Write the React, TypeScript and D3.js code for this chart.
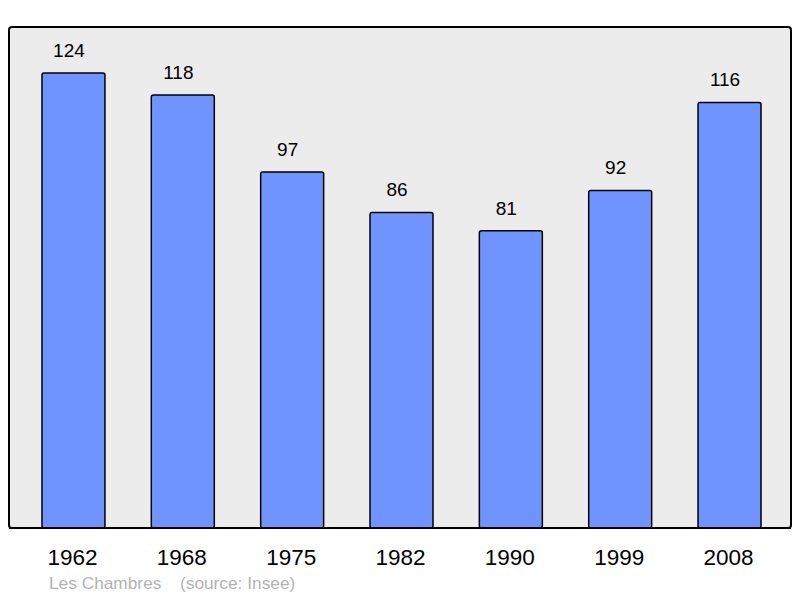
import React from "react";
import * as d3 from "d3";

const years = ["1962", "1968", "1975", "1982", "1990", "1999", "2008"];
const population = [124, 118, 97, 86, 81, 92, 116];
const footerTitle = "Les Chambres";
const footerSource = "(source: Insee)";

const width = 800;
const height = 598;
const panel = { left: 9, top: 27, right: 791, bottom: 528 };

const App: React.FC = () => {
  const x = d3
    .scaleBand<string>()
    .domain(years)
    .range([18.8, 784.2])
    .paddingInner(0.424)
    .paddingOuter(0.212);

  const y = d3
    .scaleLinear()
    .domain([0, 136.55])
    .range([panel.bottom, panel.top]);

  const font = "'Liberation Sans', Arial, sans-serif";

  return (
    <svg
      width={width}
      height={height}
      style={{ position: "absolute", left: 0, top: 0 }}
      fontFamily={font}
    >
      <rect x={0} y={0} width={width} height={height} fill="#ffffff" />
      {/* plot panel */}
      <rect
        x={panel.left}
        y={panel.top}
        width={panel.right - panel.left}
        height={panel.bottom - panel.top}
        rx={3}
        fill="#ececec"
        stroke="#000"
        strokeWidth={2}
      />
      {/* bars */}
      {years.map((yr, i) => (
        <rect
          key={yr}
          x={x(yr)}
          y={y(population[i])}
          width={x.bandwidth()}
          height={panel.bottom - y(population[i])}
          rx={2}
          fill="#7094ff"
          stroke="#000"
          strokeWidth={1.5}
        />
      ))}
      {/* value labels, sitting a little left of the bar centre */}
      {years.map((yr, i) => (
        <text
          key={`v${yr}`}
          x={(x(yr) ?? 0) + x.bandwidth() / 2 - 4.5}
          y={y(population[i]) - 16}
          textAnchor="middle"
          fontSize={19}
          fill="#000"
        >
          {population[i]}
        </text>
      ))}
      {/* redraw bottom border over bars */}
      <line
        x1={panel.left}
        x2={panel.right}
        y1={panel.bottom}
        y2={panel.bottom}
        stroke="#000"
        strokeWidth={2}
      />
      {/* year labels */}
      {years.map((yr) => (
        <text
          key={`y${yr}`}
          x={(x(yr) ?? 0) + x.bandwidth() / 2 - 1}
          y={565}
          textAnchor="middle"
          fontSize={22.5}
          fill="#000"
        >
          {yr}
        </text>
      ))}
      <text x={49} y={589} fontSize={17.3} fill="#b3b3b3">
        {footerTitle}
      </text>
      <text x={180} y={589} fontSize={17.3} fill="#b3b3b3">
        {footerSource}
      </text>
    </svg>
  );
};

export default App;
